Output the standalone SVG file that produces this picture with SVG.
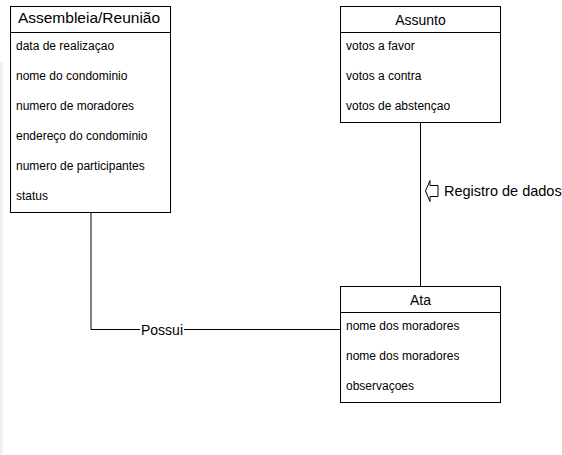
<svg xmlns="http://www.w3.org/2000/svg" width="562" height="455" viewBox="0 0 562 455">
<style>
.box{fill:#fff;stroke:#000;stroke-width:1}
.sep{stroke:#000;stroke-width:1}
.title{font-family:"Liberation Sans",Arial,sans-serif;font-size:14px;fill:#000;text-anchor:middle}
.big{font-size:15.5px}
.field{font-family:"Liberation Sans",Arial,sans-serif;font-size:12px;fill:#000}
.edge{fill:none;stroke:#000;stroke-width:1}
.lbl{font-family:"Liberation Sans",Arial,sans-serif;fill:#000;font-size:14px}
</style>
<rect x="0" y="0" width="562" height="455" fill="#fff"/>
<rect x="0" y="62" width="2.5" height="393" fill="#f0f0f0"/>
<g id="connectors">
  <path class="edge" d="M91,212.5 V329.5 H340.5"/>
  <rect x="140" y="321" width="44" height="16" fill="#fff"/>
  <text class="lbl" x="162" y="334.5" text-anchor="middle">Possui</text>
  <path class="edge" d="M420.5,122.5 V286.5"/>
  <polygon points="425.5,191 430,180.5 430,185.5 438,185.5 438,196.5 430,196.5 430,201.5" fill="#fff" stroke="#000" stroke-width="1"/>
  <text class="lbl" x="444" y="196" style="font-size:14.5px">Registro de dados</text>
</g>
<g id="assembleia">
  <rect class="box" x="10.5" y="6.5" width="160" height="206"/>
  <line class="sep" x1="10.5" y1="32.5" x2="170.5" y2="32.5"/>
  <text class="title big" x="89" y="22.5">Assembleia/Reunião</text>
  <text class="field" x="16" y="50">data de realizaçao</text>
  <text class="field" x="16" y="80">nome do condominio</text>
  <text class="field" x="16" y="110">numero de moradores</text>
  <text class="field" x="16" y="140">endereço do condominio</text>
  <text class="field" x="16" y="170">numero de participantes</text>
  <text class="field" x="16" y="200">status</text>
</g>
<g id="assunto">
  <rect class="box" x="340.5" y="6.5" width="160" height="116"/>
  <line class="sep" x1="340.5" y1="32.5" x2="500.5" y2="32.5"/>
  <text class="title" x="420.5" y="25">Assunto</text>
  <text class="field" x="346" y="50">votos a favor</text>
  <text class="field" x="346" y="80">votos a contra</text>
  <text class="field" x="346" y="110">votos de abstençao</text>
</g>
<g id="ata">
  <rect class="box" x="340.5" y="286.5" width="160" height="116"/>
  <line class="sep" x1="340.5" y1="312.5" x2="500.5" y2="312.5"/>
  <text class="title" x="420.5" y="305">Ata</text>
  <text class="field" x="346" y="330">nome dos moradores</text>
  <text class="field" x="346" y="360">nome dos moradores</text>
  <text class="field" x="346" y="390">observaçoes</text>
</g>
</svg>
